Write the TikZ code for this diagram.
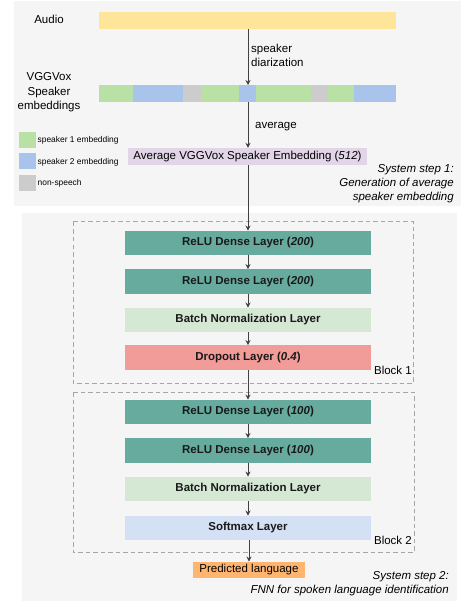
\documentclass[tikz,border=0pt]{standalone}
\usepackage{fontspec}
\setmainfont{Liberation Sans}
\usetikzlibrary{arrows.meta}
\definecolor{panelbg}{HTML}{F5F5F5}
\definecolor{audioc}{HTML}{FFE599}
\definecolor{spkone}{HTML}{B9E0A5}
\definecolor{spktwo}{HTML}{A9C4EB}
\definecolor{nonsp}{HTML}{CCCCCC}
\definecolor{avgc}{HTML}{E1D5E7}
\definecolor{reluc}{HTML}{67AB9F}
\definecolor{bnc}{HTML}{D5E8D4}
\definecolor{dropc}{HTML}{F19C99}
\definecolor{softc}{HTML}{D4E1F5}
\definecolor{predc}{HTML}{FFB570}
\definecolor{dashc}{HTML}{A6A6A6}
\tikzset{
  x=1pt, y=-1pt,
  txt/.style={font=\fontsize{11.5}{13.5}\selectfont, inner sep=0pt},
  smalltxt/.style={font=\fontsize{8.4}{10}\selectfont, inner sep=0pt, anchor=west},
  layer/.style={draw=none, minimum width=246pt, minimum height=24.5pt, inner sep=0pt, font=\fontsize{11.5}{13.5}\selectfont\bfseries, text=black!90},
  legsq/.style={draw=none, inner sep=0pt, minimum width=17pt, minimum height=16pt},
  flow/.style={draw=black!75, line width=0.8pt, -{Stealth[length=5pt,width=5pt]}},
  blockbox/.style={draw=dashc, dash pattern=on 4.5pt off 3pt, line width=1pt},
}
\begin{document}
\begin{tikzpicture}
\useasboundingbox (0,0) rectangle (461,601);
% panels
\fill[panelbg] (14,1) rectangle (461,206);
\fill[panelbg] (22,213) rectangle (457,601);

% audio
\node[txt] (audiolbl) at (49,19) {Audio};
\fill[audioc] (99,12) rectangle (396,29);
\coordinate (audiobot) at (248,29);

% embeddings bar
\node[txt, align=center, font=\fontsize{11.5}{14.5}\selectfont] (emblbl) at (49,92.5) {VGGVox\\Speaker\\embeddings};
\fill[spkone] (99,85) rectangle (133,102);
\fill[spktwo] (133,85) rectangle (183,102);
\fill[nonsp] (183,85) rectangle (201,102);
\fill[spkone] (201,85) rectangle (239,102);
\fill[spktwo] (239,85) rectangle (256,102);
\fill[spkone] (256,85) rectangle (311,102);
\fill[nonsp] (311,85) rectangle (328,102);
\fill[spkone] (328,85) rectangle (354,102);
\fill[spktwo] (354,85) rectangle (396,102);
\coordinate (embtop) at (248,85);
\coordinate (embbot) at (248,102);

\draw[flow] (audiobot) -- (embtop);
\node[txt, anchor=west, align=left] (diarlbl) at (251,55.5) {speaker\\diarization};

% legend
\node[legsq, fill=spkone] (leg1) at (27.5,140.5) {};
\node[legsq, fill=spktwo] (leg2) at (27.5,161) {};
\node[legsq, fill=nonsp] (leg3) at (27.5,183) {};
\node[smalltxt] (leg1t) at (37.5,140) {speaker 1 embedding};
\node[smalltxt] (leg2t) at (37.5,162) {speaker 2 embedding};
\node[smalltxt] (leg3t) at (37.5,183) {non-speech};

% average
\node[draw=none, fill=avgc, minimum width=239pt, minimum height=17pt, inner sep=0pt, txt] (avg) at (247.5,156.5) {Average VGGVox Speaker Embedding (\textit{512})};
\draw[flow] (embbot) -- (avg.north -| embbot);
\node[txt, anchor=west] (avglbl) at (255,127) {average};

\node[txt, anchor=north east, align=right, font=\fontsize{11.5}{14}\selectfont\itshape] (step1) at (454,164.5) {System step 1:\\Generation of average\\speaker embedding};

% block 1
\draw[blockbox] (73,222) rectangle (413,383);
\node[layer, fill=reluc] (r1) at (248,243) {ReLU Dense Layer (\textit{200})};
\node[layer, fill=reluc] (r2) at (248,281.5) {ReLU Dense Layer (\textit{200})};
\node[layer, fill=bnc] (bn1) at (248,320) {Batch Normalization Layer};
\node[layer, fill=dropc] (dr) at (248,357.5) {Dropout Layer (\textit{0.4})};
\node[txt, anchor=east] (b1lbl) at (412,370.5) {Block 1};

% block 2
\draw[blockbox] (73,392) rectangle (414,552);
\node[layer, fill=reluc] (r3) at (248,412) {ReLU Dense Layer (\textit{100})};
\node[layer, fill=reluc] (r4) at (248,450.5) {ReLU Dense Layer (\textit{100})};
\node[layer, fill=bnc] (bn2) at (248,489) {Batch Normalization Layer};
\node[layer, fill=softc] (sm) at (248,528) {Softmax Layer};
\node[txt, anchor=east] (b2lbl) at (412,540) {Block 2};

% predicted
\node[draw=none, fill=predc, minimum width=112pt, minimum height=16.5pt, inner sep=0pt, txt] (pred) at (249,570) {Predicted language};
\node[txt, anchor=north east, align=right, font=\fontsize{11.5}{14}\selectfont\itshape] (step2) at (449,571) {System step 2:\\FNN for spoken language identification};

% arrows
\draw[flow] (avg.south -| embbot) -- (r1.north -| embbot);
\draw[flow] (r1) -- (r2);
\draw[flow] (r2) -- (bn1);
\draw[flow] (bn1) -- (dr);
\draw[flow] (dr) -- (r3);
\draw[flow] (r3) -- (r4);
\draw[flow] (r4) -- (bn2);
\draw[flow] (bn2) -- (sm);
\draw[flow] (sm.south -| pred.north) -- (pred);
\end{tikzpicture}
\end{document}
